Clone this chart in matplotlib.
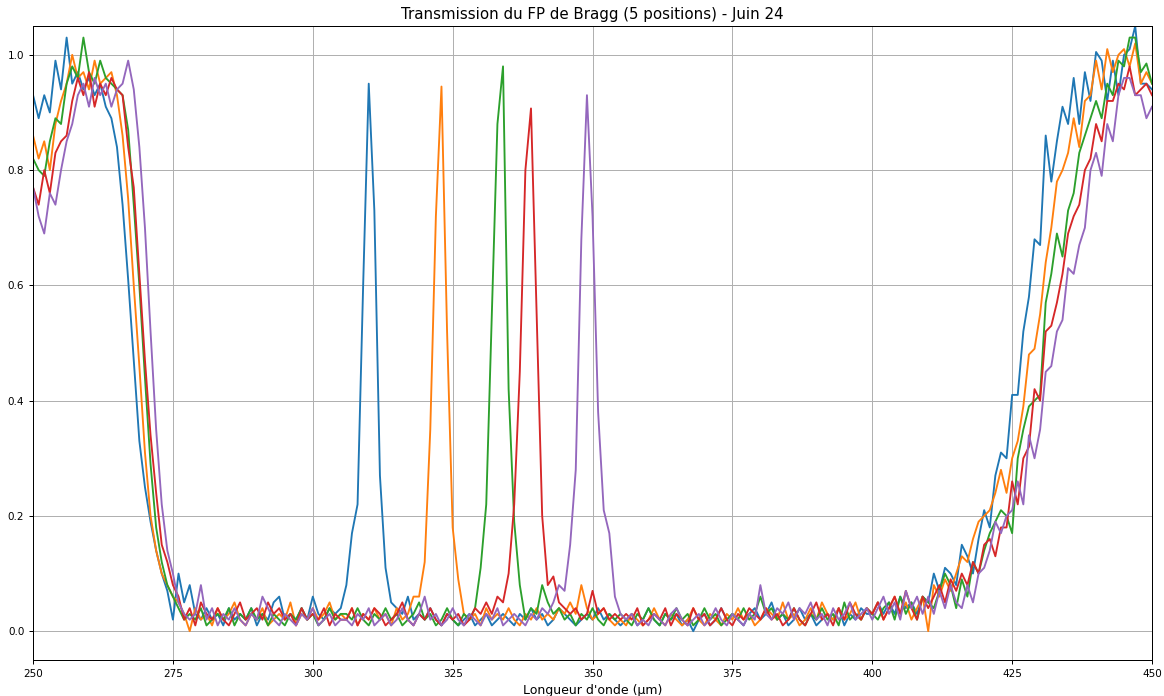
#!/usr/bin/python3
#
# Transmission of the Bragg Fabry-Perot filter, 5 positions (June 24).

import numpy as np
import matplotlib
matplotlib.use('Agg')
import matplotlib.pyplot as plt

# wavelength grid (um), 1 um step from 250 to 450
wl_start = 250
wl_stop = 450

# one row per 10 um, starting at 250
pos1 = [
    0.93, 0.89, 0.93, 0.90, 0.99, 0.94, 1.03, 0.95, 0.97, 0.94,
    0.96, 0.93, 0.95, 0.91, 0.89, 0.84, 0.74, 0.61, 0.47, 0.33,
    0.25, 0.19, 0.14, 0.10, 0.07, 0.02, 0.10, 0.05, 0.08, 0.03,
    0.02, 0.04, 0.02, 0.03, 0.01, 0.04, 0.02, 0.03, 0.02, 0.04,
    0.01, 0.03, 0.02, 0.05, 0.06, 0.02, 0.03, 0.02, 0.04, 0.02,
    0.06, 0.03, 0.02, 0.04, 0.03, 0.04, 0.08, 0.17, 0.22, 0.60,
    0.95, 0.73, 0.27, 0.11, 0.05, 0.04, 0.03, 0.06, 0.02, 0.03,
    0.02, 0.04, 0.02, 0.01, 0.03, 0.02, 0.01, 0.02, 0.03, 0.01,
    0.02, 0.03, 0.01, 0.02, 0.03, 0.02, 0.01, 0.03, 0.02, 0.04,
    0.02, 0.03, 0.01, 0.02, 0.04, 0.03, 0.02, 0.01, 0.02, 0.03,
    0.02, 0.04, 0.02, 0.03, 0.02, 0.01, 0.02, 0.03, 0.01, 0.02,
    0.04, 0.02, 0.01, 0.03, 0.02, 0.03, 0.01, 0.02, 0.00, 0.02,
    0.03, 0.01, 0.02, 0.04, 0.02, 0.03, 0.02, 0.01, 0.03, 0.04,
    0.02, 0.03, 0.05, 0.02, 0.03, 0.01, 0.02, 0.04, 0.02, 0.03,
    0.01, 0.02, 0.03, 0.02, 0.04, 0.01, 0.03, 0.02, 0.04, 0.03,
    0.03, 0.05, 0.03, 0.05, 0.03, 0.06, 0.04, 0.05, 0.03, 0.06,
    0.05, 0.10, 0.07, 0.11, 0.10, 0.08, 0.15, 0.13, 0.10, 0.16,
    0.21, 0.18, 0.27, 0.31, 0.30, 0.41, 0.41, 0.52, 0.58, 0.68,
    0.67, 0.86, 0.78, 0.85, 0.91, 0.88, 0.96, 0.88, 0.97, 0.92,
    1.005, 0.99, 0.92, 0.99, 0.93, 1.00, 1.01, 1.05, 0.95, 0.95,
    0.94]

pos2 = [
    0.86, 0.82, 0.85, 0.80, 0.88, 0.92, 0.95, 1.00, 0.96, 0.97,
    0.94, 0.99, 0.95, 0.96, 0.97, 0.93, 0.86, 0.75, 0.60, 0.46,
    0.31, 0.20, 0.14, 0.10, 0.08, 0.06, 0.05, 0.03, 0.00, 0.04,
    0.02, 0.03, 0.01, 0.04, 0.02, 0.03, 0.05, 0.02, 0.01, 0.03,
    0.02, 0.04, 0.01, 0.02, 0.03, 0.02, 0.05, 0.01, 0.03, 0.02,
    0.04, 0.02, 0.03, 0.05, 0.02, 0.03, 0.02, 0.04, 0.01, 0.03,
    0.02, 0.04, 0.02, 0.03, 0.01, 0.04, 0.02, 0.03, 0.06, 0.06,
    0.12, 0.35, 0.72, 0.945, 0.52, 0.18, 0.09, 0.03, 0.02, 0.03,
    0.01, 0.04, 0.02, 0.03, 0.02, 0.04, 0.02, 0.01, 0.03, 0.02,
    0.04, 0.02, 0.03, 0.02, 0.04, 0.03, 0.05, 0.03, 0.08, 0.04,
    0.02, 0.03, 0.04, 0.02, 0.01, 0.02, 0.01, 0.03, 0.02, 0.01,
    0.02, 0.04, 0.02, 0.01, 0.03, 0.02, 0.01, 0.02, 0.04, 0.02,
    0.01, 0.03, 0.02, 0.01, 0.03, 0.02, 0.04, 0.02, 0.03, 0.01,
    0.02, 0.04, 0.03, 0.02, 0.05, 0.02, 0.03, 0.01, 0.02, 0.04,
    0.02, 0.05, 0.03, 0.02, 0.04, 0.02, 0.03, 0.05, 0.02, 0.04,
    0.03, 0.05, 0.02, 0.04, 0.06, 0.03, 0.05, 0.02, 0.04, 0.06,
    0.00, 0.08, 0.06, 0.09, 0.07, 0.10, 0.13, 0.12, 0.16, 0.19,
    0.20, 0.21, 0.24, 0.28, 0.24, 0.30, 0.33, 0.39, 0.48, 0.49,
    0.55, 0.64, 0.70, 0.78, 0.80, 0.83, 0.89, 0.84, 0.92, 0.93,
    0.99, 0.94, 1.01, 0.97, 1.00, 1.01, 0.98, 1.02, 0.95, 0.97,
    0.95]

pos3 = [
    0.82, 0.80, 0.79, 0.85, 0.89, 0.88, 0.95, 0.98, 0.96, 1.03,
    0.97, 0.95, 0.99, 0.96, 0.95, 0.94, 0.93, 0.87, 0.74, 0.60,
    0.44, 0.29, 0.18, 0.12, 0.08, 0.06, 0.04, 0.02, 0.03, 0.02,
    0.04, 0.01, 0.02, 0.03, 0.02, 0.04, 0.01, 0.03, 0.02, 0.04,
    0.02, 0.03, 0.01, 0.03, 0.02, 0.01, 0.03, 0.02, 0.04, 0.02,
    0.03, 0.01, 0.02, 0.04, 0.02, 0.03, 0.03, 0.02, 0.04, 0.02,
    0.01, 0.03, 0.02, 0.04, 0.02, 0.03, 0.01, 0.02, 0.03, 0.05,
    0.02, 0.03, 0.01, 0.02, 0.04, 0.02, 0.01, 0.03, 0.02, 0.04,
    0.11, 0.22, 0.55, 0.88, 0.98, 0.42, 0.19, 0.08, 0.02, 0.04,
    0.03, 0.08, 0.05, 0.03, 0.04, 0.02, 0.03, 0.01, 0.03, 0.02,
    0.04, 0.02, 0.01, 0.03, 0.02, 0.03, 0.02, 0.01, 0.03, 0.02,
    0.04, 0.02, 0.01, 0.03, 0.02, 0.04, 0.02, 0.03, 0.01, 0.02,
    0.04, 0.02, 0.03, 0.01, 0.02, 0.03, 0.02, 0.04, 0.02, 0.03,
    0.06, 0.03, 0.04, 0.02, 0.03, 0.02, 0.04, 0.02, 0.01, 0.03,
    0.02, 0.04, 0.02, 0.03, 0.01, 0.05, 0.02, 0.03, 0.02, 0.04,
    0.03, 0.02, 0.04, 0.05, 0.02, 0.06, 0.03, 0.05, 0.02, 0.06,
    0.05, 0.04, 0.07, 0.10, 0.08, 0.04, 0.09, 0.06, 0.12, 0.10,
    0.14, 0.17, 0.19, 0.21, 0.20, 0.17, 0.30, 0.35, 0.39, 0.40,
    0.41, 0.57, 0.62, 0.69, 0.65, 0.73, 0.76, 0.83, 0.86, 0.89,
    0.92, 0.89, 0.95, 0.93, 0.99, 0.98, 1.03, 1.03, 0.97, 0.985,
    0.95]

pos4 = [
    0.77, 0.74, 0.80, 0.76, 0.83, 0.85, 0.86, 0.92, 0.96, 0.93,
    0.97, 0.91, 0.95, 0.93, 0.96, 0.94, 0.93, 0.84, 0.77, 0.62,
    0.47, 0.34, 0.24, 0.15, 0.12, 0.08, 0.06, 0.02, 0.04, 0.01,
    0.05, 0.03, 0.02, 0.04, 0.02, 0.01, 0.03, 0.05, 0.02, 0.03,
    0.04, 0.02, 0.05, 0.03, 0.04, 0.02, 0.03, 0.01, 0.04, 0.02,
    0.03, 0.02, 0.04, 0.01, 0.03, 0.02, 0.02, 0.04, 0.01, 0.03,
    0.02, 0.04, 0.03, 0.01, 0.02, 0.03, 0.05, 0.02, 0.01, 0.03,
    0.02, 0.04, 0.02, 0.01, 0.03, 0.02, 0.03, 0.01, 0.02, 0.04,
    0.03, 0.05, 0.03, 0.06, 0.05, 0.10, 0.22, 0.45, 0.80, 0.907,
    0.55, 0.20, 0.08, 0.095, 0.05, 0.04, 0.03, 0.04, 0.02, 0.03,
    0.07, 0.03, 0.04, 0.02, 0.03, 0.02, 0.03, 0.02, 0.04, 0.01,
    0.02, 0.03, 0.02, 0.04, 0.01, 0.03, 0.02, 0.01, 0.04, 0.02,
    0.03, 0.01, 0.02, 0.04, 0.02, 0.01, 0.03, 0.02, 0.04, 0.03,
    0.02, 0.04, 0.02, 0.03, 0.01, 0.02, 0.04, 0.02, 0.01, 0.03,
    0.05, 0.02, 0.03, 0.01, 0.04, 0.02, 0.05, 0.03, 0.02, 0.04,
    0.03, 0.05, 0.02, 0.04, 0.06, 0.03, 0.07, 0.04, 0.02, 0.06,
    0.04, 0.06, 0.08, 0.05, 0.09, 0.07, 0.10, 0.08, 0.12, 0.10,
    0.15, 0.16, 0.13, 0.18, 0.18, 0.26, 0.22, 0.30, 0.32, 0.42,
    0.40, 0.52, 0.53, 0.57, 0.62, 0.69, 0.72, 0.74, 0.80, 0.82,
    0.88, 0.85, 0.92, 0.92, 0.95, 0.94, 0.98, 0.93, 0.94, 0.95,
    0.93]

pos5 = [
    0.77, 0.72, 0.69, 0.76, 0.74, 0.80, 0.85, 0.88, 0.93, 0.95,
    0.91, 0.96, 0.93, 0.95, 0.91, 0.94, 0.95, 0.99, 0.94, 0.84,
    0.70, 0.52, 0.35, 0.22, 0.14, 0.10, 0.05, 0.03, 0.02, 0.03,
    0.08, 0.02, 0.04, 0.01, 0.03, 0.02, 0.04, 0.02, 0.01, 0.03,
    0.02, 0.06, 0.04, 0.02, 0.01, 0.03, 0.02, 0.01, 0.03, 0.02,
    0.04, 0.01, 0.02, 0.03, 0.01, 0.02, 0.02, 0.01, 0.03, 0.02,
    0.04, 0.01, 0.02, 0.03, 0.01, 0.02, 0.04, 0.02, 0.01, 0.03,
    0.06, 0.02, 0.03, 0.01, 0.02, 0.04, 0.02, 0.01, 0.03, 0.02,
    0.01, 0.03, 0.02, 0.04, 0.01, 0.02, 0.03, 0.02, 0.01, 0.03,
    0.02, 0.04, 0.03, 0.05, 0.08, 0.07, 0.15, 0.28, 0.68, 0.93,
    0.72, 0.38, 0.21, 0.17, 0.06, 0.03, 0.02, 0.03, 0.01, 0.02,
    0.01, 0.03, 0.02, 0.01, 0.03, 0.04, 0.02, 0.01, 0.02, 0.03,
    0.01, 0.02, 0.04, 0.02, 0.01, 0.03, 0.02, 0.01, 0.03, 0.02,
    0.08, 0.03, 0.02, 0.04, 0.03, 0.05, 0.02, 0.04, 0.03, 0.05,
    0.02, 0.03, 0.01, 0.04, 0.02, 0.03, 0.05, 0.02, 0.03, 0.04,
    0.02, 0.04, 0.06, 0.03, 0.05, 0.02, 0.07, 0.04, 0.06, 0.03,
    0.06, 0.03, 0.07, 0.04, 0.08, 0.05, 0.04, 0.08, 0.05, 0.10,
    0.11, 0.14, 0.19, 0.17, 0.20, 0.21, 0.26, 0.22, 0.34, 0.30,
    0.35, 0.45, 0.46, 0.52, 0.54, 0.63, 0.62, 0.67, 0.70, 0.80,
    0.83, 0.79, 0.88, 0.85, 0.93, 0.96, 0.96, 0.93, 0.93, 0.89,
    0.91]

positions = [pos1, pos2, pos3, pos4, pos5]


def chart():
    wl = np.arange(wl_start, wl_stop + 1)
    # drawn at 90 dpi so fonts and lines come out at the reference's scale
    fig = plt.figure(figsize=(1164 / 90, 696 / 90), dpi=90)
    ax = fig.add_axes([0.0284, 0.0517, 0.9613, 0.9109])
    for t in positions:
        assert len(t) == len(wl)
        ax.plot(wl, t)
    ax.set_xlim(250, 450)
    ax.set_ylim(-0.05, 1.05)
    ax.tick_params(labelsize='small')
    ax.grid(True)
    ax.set_xlabel("Longueur d'onde (µm)")
    ax.set_title('Transmission du FP de Bragg (5 positions) - Juin 24')
    fig.savefig('out.png')


if __name__ == '__main__':
    chart()
